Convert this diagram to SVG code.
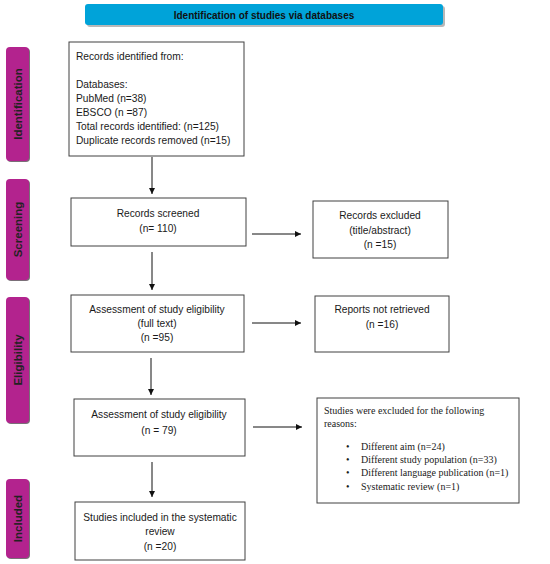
<svg xmlns="http://www.w3.org/2000/svg" width="550" height="564" viewBox="0 0 550 564">
<defs>
<style>
.box{fill:#fff;stroke:#404040;stroke-width:1}
.t{font-family:"Liberation Sans",Arial,sans-serif;font-size:10.2px;fill:#1a1a1a}
.c{text-anchor:middle}
.s{font-family:"Liberation Serif","Times New Roman",serif;font-size:10px;fill:#1a1a1a}
.side{fill:#B3238E}
.sh{fill:#7a6f78}
.lab{font-family:"Liberation Sans",Arial,sans-serif;font-size:11.5px;font-weight:bold;fill:#222;text-anchor:middle}
.ln{stroke:#111;stroke-width:1;fill:none;marker-end:url(#ah)}
</style>
<marker id="ah" markerWidth="8" markerHeight="8" refX="6" refY="3" orient="auto" markerUnits="userSpaceOnUse">
<path d="M0,0 L6,3 L0,6 z" fill="#111"/>
</marker>
</defs>
<rect width="550" height="564" fill="#fff"/>

<g id="title">
<rect x="87" y="6" width="358" height="21" rx="3" fill="#b8b8b8"/>
<rect x="85" y="4" width="358" height="21" rx="3" fill="#00A3D9"/>
<text x="264" y="18.5" class="t c" style="font-weight:bold;font-size:10px;fill:#111">Identification of studies via databases</text>
</g>

<g id="side-identification">
<rect x="7" y="48" width="23" height="114" rx="4" class="sh"/>
<rect x="6" y="47" width="23" height="114" rx="4" class="side"/>
<text transform="translate(21.5,104) rotate(-90)" class="lab">Identification</text>
</g>
<g id="side-screening">
<rect x="7" y="180" width="23" height="101" rx="4" class="sh"/>
<rect x="6" y="179" width="23" height="101" rx="4" class="side"/>
<text transform="translate(21.5,229.5) rotate(-90)" class="lab">Screening</text>
</g>
<g id="side-eligibility">
<rect x="7" y="298" width="23" height="126" rx="4" class="sh"/>
<rect x="6" y="297" width="23" height="126" rx="4" class="side"/>
<text transform="translate(21.5,360) rotate(-90)" class="lab">Eligibility</text>
</g>
<g id="side-included">
<rect x="7" y="480" width="23" height="79" rx="4" class="sh"/>
<rect x="6" y="479" width="23" height="79" rx="4" class="side"/>
<text transform="translate(21.5,518.5) rotate(-90)" class="lab">Included</text>
</g>

<g id="identified">
<rect x="69" y="42" width="175" height="114" class="box"/>
<text class="t" x="76" y="60">Records identified from:</text>
<text class="t" x="76" y="88">Databases:</text>
<text class="t" x="76" y="102">PubMed (n=38)</text>
<text class="t" x="76" y="116">EBSCO (n =87)</text>
<text class="t" x="76" y="130">Total records identified: (n=125)</text>
<text class="t" x="76" y="144">Duplicate records removed (n=15)</text>
</g>

<g id="screened">
<rect x="71" y="198" width="175" height="48" class="box"/>
<text class="t c" x="158" y="217">Records screened</text>
<text class="t c" x="158" y="232">(n= 110)</text>
</g>

<g id="excluded">
<rect x="313" y="201" width="135" height="57" class="box"/>
<text class="t c" x="380" y="219">Records excluded</text>
<text class="t c" x="380" y="234">(title/abstract)</text>
<text class="t c" x="380" y="248">(n =15)</text>
</g>

<g id="fulltext">
<rect x="71" y="295" width="173" height="57" class="box"/>
<text class="t c" x="157" y="313">Assessment of study eligibility</text>
<text class="t c" x="157" y="327">(full text)</text>
<text class="t c" x="157" y="341">(n =95)</text>
</g>

<g id="notretrieved">
<rect x="315" y="296" width="134" height="56" class="box"/>
<text class="t c" x="382" y="313">Reports not retrieved</text>
<text class="t c" x="382" y="328">(n =16)</text>
</g>

<g id="eligibility79">
<rect x="74" y="399" width="171" height="57" class="box"/>
<text class="t c" x="159" y="418">Assessment of study eligibility</text>
<text class="t c" x="159" y="434">(n = 79)</text>
</g>

<g id="reasons">
<rect x="317" y="398" width="202" height="105" class="box"/>
<text class="s" x="324" y="414">Studies were excluded for the following</text>
<text class="s" x="324" y="427">reasons:</text>
<text class="s" x="346" y="450">•</text><text class="s" x="361" y="450">Different aim (n=24)</text>
<text class="s" x="346" y="463">•</text><text class="s" x="361" y="463">Different study population (n=33)</text>
<text class="s" x="346" y="476">•</text><text class="s" x="361" y="476">Different language publication (n=1)</text>
<text class="s" x="346" y="490">•</text><text class="s" x="361" y="490">Systematic review (n=1)</text>
</g>

<g id="included">
<rect x="75" y="502" width="170" height="58" class="box"/>
<text class="t c" x="160" y="521">Studies included in the systematic</text>
<text class="t c" x="160" y="535">review</text>
<text class="t c" x="160" y="550">(n =20)</text>
</g>

<g id="connectors">
<line x1="152" y1="157" x2="152" y2="194" class="ln"/>
<line x1="252" y1="234" x2="301" y2="234" class="ln"/>
<line x1="152" y1="252" x2="152" y2="290" class="ln"/>
<line x1="252" y1="323" x2="301" y2="323" class="ln"/>
<line x1="151" y1="358" x2="151" y2="395" class="ln"/>
<line x1="253" y1="427" x2="302" y2="427" class="ln"/>
<line x1="152" y1="462" x2="152" y2="497" class="ln"/>
</g>
</svg>
